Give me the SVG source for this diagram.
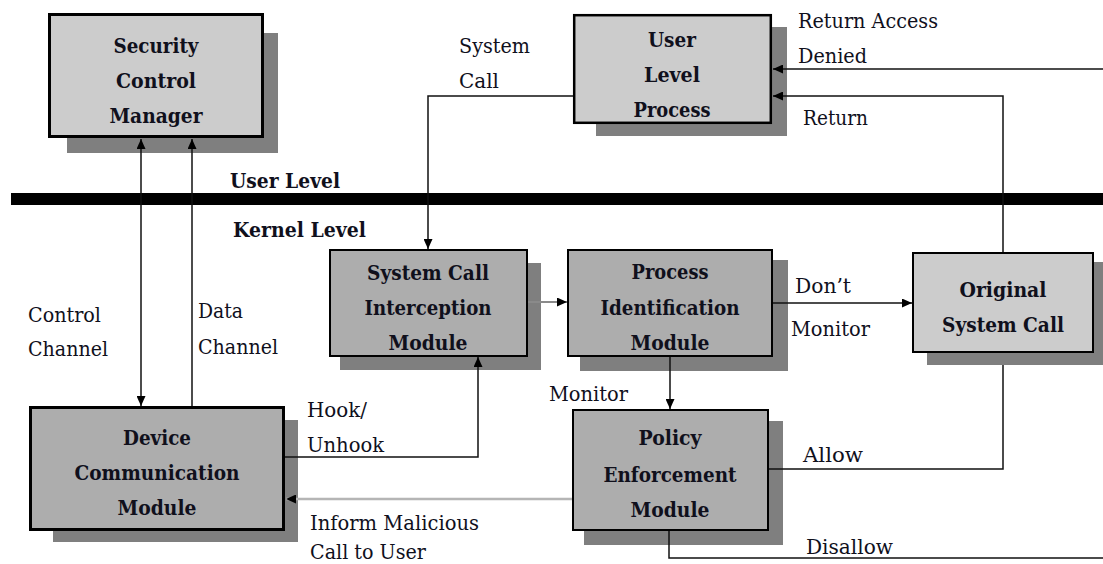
<svg xmlns="http://www.w3.org/2000/svg" width="1103" height="564" viewBox="0 0 1103 564">
<defs>
<marker id="ah" markerWidth="10" markerHeight="9" refX="10" refY="4.5" orient="auto" markerUnits="userSpaceOnUse" viewBox="0 0 10 9">
<path d="M0,0 L10,4.5 L0,9 z" fill="#000" stroke="none"/>
</marker>
<marker id="ahs" markerWidth="10" markerHeight="9" refX="0" refY="4.5" orient="auto" markerUnits="userSpaceOnUse" viewBox="0 0 10 9">
<path d="M10,0 L0,4.5 L10,9 z" fill="#000" stroke="none"/>
</marker>
</defs>
<style>
text{font-family:'DejaVu Serif',serif;font-size:21px;fill:#10101c}
.b{font-weight:bold}
.c{text-anchor:middle;font-weight:bold}
.sh{fill:#7f7f7f}
.lt{fill:#cccccc;stroke:#000}
.dk{fill:#adadad;stroke:#000}
.cn{fill:none;stroke:#111;stroke-width:1.5}
.gr{fill:none;stroke:#8a8a8a;stroke-width:2}
.lg{fill:none;stroke:#b5b5b5;stroke-width:2.5}
</style>
<rect x="0" y="0" width="1103" height="564" fill="#fff"/>
<rect x="11" y="193" width="1092" height="12" fill="#000"/>
<text class="b" x="230" y="188" textLength="110" lengthAdjust="spacingAndGlyphs">User Level</text>
<text class="b" x="233" y="237" textLength="133" lengthAdjust="spacingAndGlyphs">Kernel Level</text>

<g id="security-control-manager">
<rect class="sh" x="67" y="33" width="211" height="120"/>
<rect class="lt" x="49.5" y="14.5" width="213" height="122" stroke-width="3"/>
<text class="c" x="156" y="53" textLength="85" lengthAdjust="spacingAndGlyphs">Security</text>
<text class="c" x="156" y="88" textLength="80" lengthAdjust="spacingAndGlyphs">Control</text>
<text class="c" x="156" y="123" textLength="93" lengthAdjust="spacingAndGlyphs">Manager</text>
</g>

<g id="user-level-process">
<rect class="sh" x="596" y="27" width="191" height="109"/>
<rect class="lt" x="574.2" y="15.2" width="196.6" height="107.6" stroke-width="2.5"/>
<text class="c" x="672" y="47" textLength="48" lengthAdjust="spacingAndGlyphs">User</text>
<text class="c" x="672" y="82" textLength="56" lengthAdjust="spacingAndGlyphs">Level</text>
<text class="c" x="672" y="117" textLength="77" lengthAdjust="spacingAndGlyphs">Process</text>
</g>

<g id="system-call-interception-module">
<rect class="sh" x="340" y="263" width="201" height="107"/>
<rect class="dk" x="330" y="250" width="197" height="106" stroke-width="2"/>
<text class="c" x="428" y="280" textLength="122" lengthAdjust="spacingAndGlyphs">System Call</text>
<text class="c" x="428" y="315" textLength="127" lengthAdjust="spacingAndGlyphs">Interception</text>
<text class="c" x="428" y="350" textLength="79" lengthAdjust="spacingAndGlyphs">Module</text>
</g>

<g id="process-identification-module">
<rect class="sh" x="580" y="260" width="208" height="111"/>
<rect class="dk" x="568" y="250" width="204" height="106" stroke-width="2"/>
<text class="c" x="670" y="279" textLength="77" lengthAdjust="spacingAndGlyphs">Process</text>
<text class="c" x="670" y="315" textLength="139" lengthAdjust="spacingAndGlyphs">Identification</text>
<text class="c" x="670" y="350" textLength="79" lengthAdjust="spacingAndGlyphs">Module</text>
</g>

<g id="original-system-call">
<rect class="sh" x="927" y="262" width="176" height="103"/>
<rect class="lt" x="913" y="253" width="180" height="99" stroke-width="2"/>
<text class="c" x="1003" y="297" textLength="87" lengthAdjust="spacingAndGlyphs">Original</text>
<text class="c" x="1003" y="332" textLength="122" lengthAdjust="spacingAndGlyphs">System Call</text>
</g>

<g id="device-communication-module">
<rect class="sh" x="53" y="420" width="245" height="122"/>
<rect class="dk" x="30.5" y="407.5" width="253" height="122" stroke-width="3"/>
<text class="c" x="157" y="445" textLength="68" lengthAdjust="spacingAndGlyphs">Device</text>
<text class="c" x="157" y="480" textLength="165" lengthAdjust="spacingAndGlyphs">Communication</text>
<text class="c" x="157" y="515" textLength="79" lengthAdjust="spacingAndGlyphs">Module</text>
</g>

<g id="policy-enforcement-module">
<rect class="sh" x="584" y="421" width="199" height="124"/>
<rect class="dk" x="573" y="410" width="195" height="120" stroke-width="2"/>
<text class="c" x="670" y="445" textLength="63" lengthAdjust="spacingAndGlyphs">Policy</text>
<text class="c" x="670" y="482" textLength="133" lengthAdjust="spacingAndGlyphs">Enforcement</text>
<text class="c" x="670" y="517" textLength="79" lengthAdjust="spacingAndGlyphs">Module</text>
</g>

<g id="connectors">
<line class="cn" x1="141" y1="139" x2="141" y2="406" marker-start="url(#ahs)" marker-end="url(#ah)"/>
<line class="cn" x1="192" y1="406" x2="192" y2="139" marker-end="url(#ah)"/>
<polyline class="cn" points="573,96 428,96 428,249" marker-end="url(#ah)"/>
<line class="gr" x1="528" y1="302" x2="567" y2="302" marker-end="url(#ah)"/>
<line class="cn" x1="773" y1="303" x2="912" y2="303" marker-end="url(#ah)"/>
<line class="cn" x1="670" y1="357" x2="670" y2="409" marker-end="url(#ah)"/>
<polyline class="cn" points="285,457 478,457 478,357" marker-end="url(#ah)"/>
<line class="lg" x1="572" y1="499" x2="286" y2="499" marker-end="url(#ah)"/>
<polyline class="cn" points="769,469 1003,469 1003,365"/>
<polyline class="cn" points="669,531 669,558 1103,558"/>
<polyline class="cn" points="1003,252 1003,96 773,96" marker-end="url(#ah)"/>
<line class="cn" x1="1103" y1="69" x2="773" y2="69" marker-end="url(#ah)"/>
<text x="459" y="53" textLength="71" lengthAdjust="spacingAndGlyphs">System</text>
<text x="459" y="88" textLength="40" lengthAdjust="spacingAndGlyphs">Call</text>
<text x="798" y="28" textLength="140" lengthAdjust="spacingAndGlyphs">Return Access</text>
<text x="798" y="63" textLength="69" lengthAdjust="spacingAndGlyphs">Denied</text>
<text x="803" y="125" textLength="65" lengthAdjust="spacingAndGlyphs">Return</text>
<text x="28" y="322" textLength="73" lengthAdjust="spacingAndGlyphs">Control</text>
<text x="28" y="356" textLength="80" lengthAdjust="spacingAndGlyphs">Channel</text>
<text x="198" y="318" textLength="45" lengthAdjust="spacingAndGlyphs">Data</text>
<text x="198" y="354" textLength="80" lengthAdjust="spacingAndGlyphs">Channel</text>
<text x="795" y="293" textLength="56" lengthAdjust="spacingAndGlyphs">Don’t</text>
<text x="791" y="336" textLength="79" lengthAdjust="spacingAndGlyphs">Monitor</text>
<text x="549" y="401" textLength="79" lengthAdjust="spacingAndGlyphs">Monitor</text>
<text x="307" y="417" textLength="60" lengthAdjust="spacingAndGlyphs">Hook/</text>
<text x="307" y="452" textLength="77" lengthAdjust="spacingAndGlyphs">Unhook</text>
<text x="310" y="530" textLength="169" lengthAdjust="spacingAndGlyphs">Inform Malicious</text>
<text x="310" y="559" textLength="116" lengthAdjust="spacingAndGlyphs">Call to User</text>
<text x="803" y="462" textLength="60" lengthAdjust="spacingAndGlyphs">Allow</text>
<text x="806" y="554" textLength="87" lengthAdjust="spacingAndGlyphs">Disallow</text>
</g>
</svg>
